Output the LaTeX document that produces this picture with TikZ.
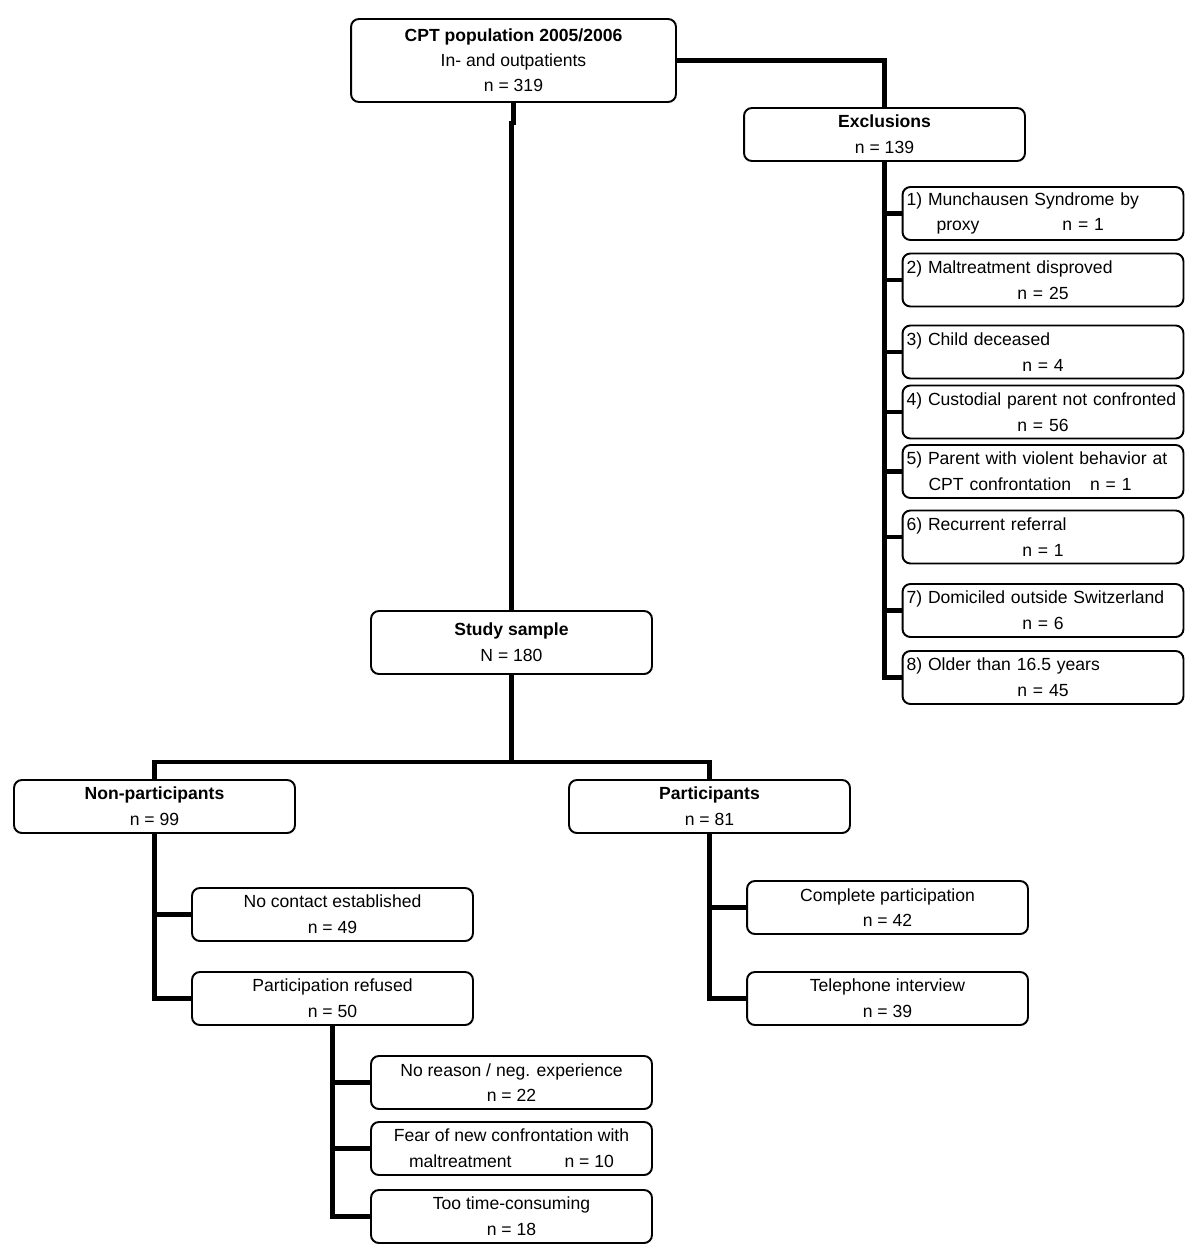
\documentclass[tikz,border=0pt]{standalone}
\usepackage{fontspec}
\setmainfont{Liberation Sans}
\usepackage{tikz}
\usetikzlibrary{positioning, calc}

\newcommand{\ctrline}[1]{\makebox[\linewidth]{#1}}

\begin{document}
\begin{tikzpicture}[
    x=0.02cm, y=-0.02cm,
    box/.style={draw, line width=1.1pt, rounded corners=4.5pt, minimum width=5.62cm,
        minimum height=1.06cm, align=center, inner sep=0.08cm, fill=white,
        font=\fontsize{10}{14.6}\selectfont},
    itembox/.style={box, align=left, text width=5.46cm},
    link/.style={line width=2.8pt},
]
    \useasboundingbox (0,0) rectangle (1200,1255);

    % Population and study sample
    \node[box, minimum width=6.5cm, minimum height=1.66cm, font=\fontsize{10}{14.2}\selectfont]
        (pop) at (513.5, 60.5) {\textbf{CPT population 2005/2006}\\In- and outpatients\\n = 319};
    \node[box] (excl) at (884.5, 134.5) {\textbf{Exclusions}\\n = 139};
    \node[box, minimum height=1.26cm] (sample) at (511.5, 642.5) {\textbf{Study sample}\\N = 180};

    % Exclusion reasons
    \node[itembox] (ex1) at (1043, 213.5)
        {1) Munchausen Syndrome by\\\hspace*{0.6cm}proxy\hspace{1.66cm}n = 1};
    \node[itembox] (ex2) at (1043, 280) {2) Maltreatment disproved\\\ctrline{n = 25}};
    \node[itembox] (ex3) at (1043, 352) {3) Child deceased\\\ctrline{n = 4}};
    \node[itembox] (ex4) at (1043, 412) {4) Custodial parent not confronted\\\ctrline{n = 56}};
    \node[itembox] (ex5) at (1043, 471.5)
        {5) Parent with violent behavior at\\\hspace*{0.44cm}CPT confrontation\hspace{0.38cm}n = 1};
    \node[itembox] (ex6) at (1043, 537) {6) Recurrent referral\\\ctrline{n = 1}};
    \node[itembox] (ex7) at (1043, 610.5) {7) Domiciled outside Switzerland\\\ctrline{n = 6}};
    \node[itembox] (ex8) at (1043, 677.5) {8) Older than 16.5 years\\\ctrline{n = 45}};

    % Non-participants / participants
    \node[box] (nonpart) at (154.5, 806.5) {\textbf{Non-participants}\\n = 99};
    \node[box] (part) at (709.5, 806.5) {\textbf{Participants}\\n = 81};
    \node[box] (nocontact) at (332.5, 914.5) {No contact established\\n = 49};
    \node[box] (refused) at (332.5, 998.5) {Participation refused\\n = 50};
    \node[box] (complete) at (887.5, 907.5) {Complete participation\\n = 42};
    \node[box] (phone) at (887.5, 998.5) {Telephone interview\\n = 39};

    % Reasons for refusal
    \node[box] (noreason) at (511.5, 1082.5) {No reason / neg. experience\\n = 22};
    \node[box] (fear) at (511.5, 1148.5)
        {Fear of new confrontation with\\maltreatment\hspace{1.06cm}n = 10};
    \node[box] (timecons) at (511.5, 1216.5) {Too time-consuming\\n = 18};

    % Connectors
    \draw[link] (pop.east) -| (excl.north);
    \draw[link] (pop.south) -- ++(0,20) -| (sample.north);
    \draw[link] (excl.south) |- (ex8.west);
    \foreach \k in {1,...,7} {
        \draw[link] (excl.south |- ex\k.west) -- (ex\k.west);
    }

    \coordinate (split) at (511.5, 762);
    \draw[link] (sample.south) -- (split);
    \draw[link] (nonpart.north) |- (split) -| (part.north);

    \draw[link] (nonpart.south) |- (refused.west);
    \draw[link] (nonpart.south |- nocontact.west) -- (nocontact.west);
    \draw[link] (part.south) |- (phone.west);
    \draw[link] (part.south |- complete.west) -- (complete.west);
    \draw[link] (refused.south) |- (timecons.west);
    \draw[link] (refused.south |- noreason.west) -- (noreason.west);
    \draw[link] (refused.south |- fear.west) -- (fear.west);

\end{tikzpicture}
\end{document}
